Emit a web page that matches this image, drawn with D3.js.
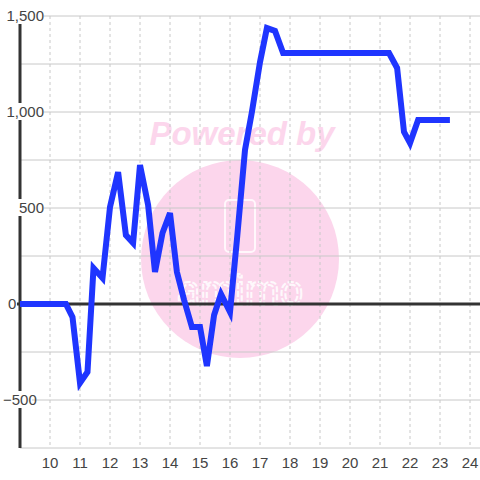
<!DOCTYPE html>
<html>
<head>
<meta charset="utf-8">
<script src="https://cdn.jsdelivr.net/npm/d3@7"></script>
<style>
  body { margin: 0; background: #fff; }
  text { font-family: "Liberation Sans", Arial, sans-serif; }
</style>
</head>
<body>
<svg id="chart" width="480" height="480"></svg>
<script>
// data, hour of day vs value
var times = [9, 10.53, 10.75, 11, 11.25, 11.45, 11.75, 12, 12.27, 12.53, 12.77, 13, 13.27, 13.5, 13.75, 14,
  14.23, 14.47, 14.73, 15, 15.23, 15.47, 15.7, 16, 16.23, 16.5, 16.73, 17, 17.23, 17.5, 17.77,
  21.3, 21.57, 21.8, 22, 22.27, 23.33];
var values = [0, 0, -68, -411, -354, 187, 135, 505, 687, 359, 318, 724, 516, 167, 370, 474,
  167, 21, -120, -120, -323, -57, 52, -42, 333, 802, 1000, 1260, 1437, 1422, 1307,
  1307, 1229, 896, 838, 958, 958];
var xTicks = d3.range(10, 25);
var yTicks = [-500, 0, 500, 1000, 1500];
var yGrid = d3.range(-750, 1501, 250);

var svg = d3.select("#chart"),
    margin = {top: 16, right: 0, bottom: 32, left: 20},
    width = +svg.attr("width") - margin.left - margin.right,
    height = +svg.attr("height") - margin.top - margin.bottom;

var x = d3.scaleLinear().domain([9, 24.333]).range([margin.left, margin.left + width]);
var y = d3.scaleLinear().domain([-750, 1500]).range([margin.top + height, margin.top]);

// watermark
var wm = svg.append("g");
wm.append("circle")
    .attr("cx", 240).attr("cy", 259).attr("r", 99)
    .attr("fill", "#fcd6ec");
wm.append("text")
    .attr("x", 242).attr("y", 145)
    .attr("text-anchor", "middle")
    .attr("font-size", 33).attr("font-weight", "bold").attr("font-style", "italic")
    .attr("fill", "#fcd6ec")
    .text("Powered by");
wm.append("rect")
    .attr("x", 225).attr("y", 200).attr("width", 30).attr("height", 52).attr("rx", 4)
    .attr("fill", "none").attr("stroke", "#fff").attr("stroke-width", 2).attr("opacity", 0.8);
wm.append("text")
    .attr("x", 240).attr("y", 305)
    .attr("text-anchor", "middle")
    .attr("font-size", 42).attr("font-family", "DejaVu Sans Mono")
    .attr("fill", "none").attr("stroke", "#fff").attr("stroke-width", 2)
    .attr("stroke-dasharray", "6,2").attr("opacity", 0.85)
    .text("amimo");

// grid
svg.append("g").selectAll("line")
    .data(yGrid.filter(function(d) { return d != 0; }))
    .enter().append("line")
    .attr("x1", margin.left).attr("x2", 480)
    .attr("y1", function(d) { return y(d); }).attr("y2", function(d) { return y(d); })
    .attr("stroke", "#c8c8c8").attr("stroke-width", 1);

svg.append("g").selectAll("line")
    .data(xTicks)
    .enter().append("line")
    .attr("x1", function(d) { return x(d); }).attr("x2", function(d) { return x(d); })
    .attr("y1", margin.top).attr("y2", margin.top + height)
    .attr("stroke", "#c8c8c8").attr("stroke-width", 1)
    .attr("stroke-dasharray", "3,3");

// y axis line
svg.append("line")
    .attr("x1", margin.left).attr("x2", margin.left)
    .attr("y1", margin.top + 8).attr("y2", margin.top + height)
    .attr("stroke", "#333").attr("stroke-width", 3);

// zero line
svg.append("line")
    .attr("x1", 17).attr("x2", 480)
    .attr("y1", y(0)).attr("y2", y(0))
    .attr("stroke", "#333").attr("stroke-width", 3);

// y labels with white boxes
var yl = svg.append("g").selectAll("g")
    .data(yTicks)
    .enter().append("g");

yl.append("rect")
    .attr("x", function(d) { return d == 0 ? 7 : (d < 0 ? 2 : 6); })
    .attr("y", function(d) { return y(d) - 9; })
    .attr("width", function(d) { return d == 0 ? 10 : (d < 0 ? 30 : 38); })
    .attr("height", 17)
    .attr("fill", "#fff");

yl.append("text")
    .attr("x", function(d) { return d == 0 ? 8 : (d < 0 ? 3 : 44); })
    .attr("y", function(d) { return y(d); })
    .attr("dy", "0.36em")
    .attr("text-anchor", function(d) { return d > 0 ? "end" : "start"; })
    .attr("font-size", 15)
    .attr("fill", "#444")
    .text(function(d) { return d3.format(",")(d); });

// x labels
svg.append("g").selectAll("text")
    .data(xTicks)
    .enter().append("text")
    .attr("x", function(d) { return x(d); })
    .attr("y", 468)
    .attr("text-anchor", "middle")
    .attr("font-size", 15)
    .attr("fill", "#444")
    .text(function(d) { return d; });

// series
var line = d3.line()
    .x(function(d, i) { return x(times[i]); })
    .y(function(d) { return y(d); });

svg.append("path")
    .datum(values)
    .attr("d", line)
    .attr("fill", "none")
    .attr("stroke", "#1f35ff")
    .attr("stroke-width", 6);
</script>
</body>
</html>
